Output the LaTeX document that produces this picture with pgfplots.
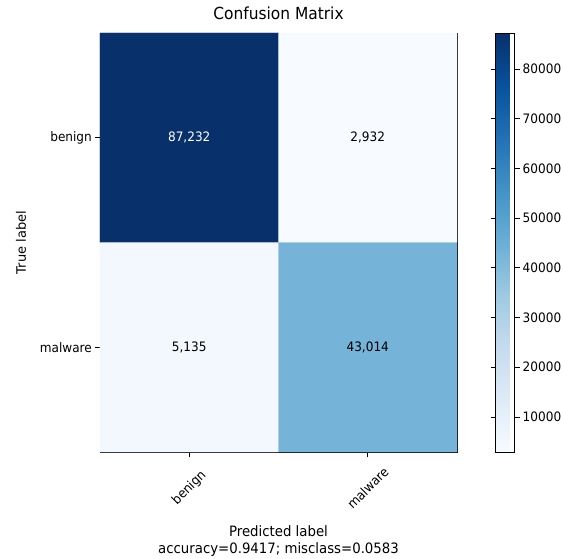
\documentclass[border=0pt]{standalone}
\usepackage{fontspec}
\setmainfont{DejaVu Sans}[FakeStretch=0.93]
\newfontfamily\uprightlabel{DejaVu Sans}
\usepackage{pgfplots}
\pgfplotsset{compat=1.18}

% matplotlib "Blues" colormap
\pgfplotsset{
  colormap={Blues}{
    rgb255(0)=(247,251,255)
    rgb255(1)=(222,235,247)
    rgb255(2)=(198,219,239)
    rgb255(3)=(158,202,225)
    rgb255(4)=(107,174,214)
    rgb255(5)=(66,146,198)
    rgb255(6)=(33,113,181)
    rgb255(7)=(8,81,156)
    rgb255(8)=(8,48,107)
  }
}
\newcommand{\basefont}{\fontsize{13}{15.6}\selectfont}

\begin{document}
\begin{tikzpicture}[font=\basefont]
\begin{axis}[
  name=cm,
  scale only axis,
  width=357pt, height=419pt,
  xmin=-0.5, xmax=1.5, ymin=-0.5, ymax=1.5,
  y dir=reverse,
  colormap name=Blues,
  point meta min=2932, point meta max=87232,
  every tick label/.append style={font=\basefont},
  xtick={0,1}, xticklabels={benign,malware},
  ytick={0,1}, yticklabels={benign,malware},
  xticklabel style={rotate=45, anchor=center, xshift=-22pt, yshift=-22pt},
  yticklabel style={inner sep=0pt, xshift=-3pt},
  tick align=outside,
  tick pos=left,
  major tick length=5pt,
  tick style={black, line width=0.6pt},
  axis line style={line width=0.6pt},
  title={Confusion Matrix},
  title style={at={(axis description cs:0.5,1)}, anchor=base, yshift=7pt,
    inner sep=0pt, font=\fontsize{16.6}{19}\selectfont},
  xlabel={Predicted label\\accuracy=0.9417; misclass=0.0583},
  xlabel style={at={(axis description cs:0.5,0)}, anchor=north, yshift=-73pt,
    inner sep=0pt, align=center, font=\fontsize{14.3}{17.5}\selectfont},
  ylabel={True label},
  ylabel style={at={(axis description cs:0,0.5)}, anchor=center, yshift=79pt,
    inner sep=0pt, font=\uprightlabel\basefont},
  nodes near coords style={font=\basefont},
  colorbar,
  colorbar style={
    width=19pt,
    at={(parent axis.north east)},
    anchor=north west,
    xshift=30pt,
    scaled y ticks=false,
    ytick={10000,20000,30000,40000,50000,60000,70000,80000},
    every tick label/.append style={font=\basefont},
    yticklabel style={/pgf/number format/1000 sep={},
      /pgf/number format/assume math mode=true, inner sep=0pt, xshift=3pt},
    yticklabel pos=right,
    tick align=outside,
    major tick length=5pt,
    tick style={black, line width=0.6pt},
    axis line style={line width=0.6pt},
  },
]
\addplot[matrix plot*, mesh/cols=2, point meta=explicit] table[meta=v] {
x y v
0 0 87232
1 0 2932
0 1 5135
1 1 43014
};
% cell counts
\addplot[only marks, mark=none, point meta=explicit symbolic,
  nodes near coords, nodes near coords align={center},
  every node near coord/.append style={white, font=\basefont}] table[meta=lab] {
x y lab
0 0 87,232
};
\addplot[only marks, mark=none, point meta=explicit symbolic,
  nodes near coords, nodes near coords align={center},
  every node near coord/.append style={black, font=\basefont}] table[meta=lab] {
x y lab
1 0 2,932
0 1 5,135
1 1 43,014
};
\end{axis}
% fixed page frame around the axis
\pgfresetboundingbox
\path ([shift={(-100pt,-106pt)}]cm.south west) rectangle ([shift={(106pt,33pt)}]cm.north east);
\end{tikzpicture}
\end{document}
